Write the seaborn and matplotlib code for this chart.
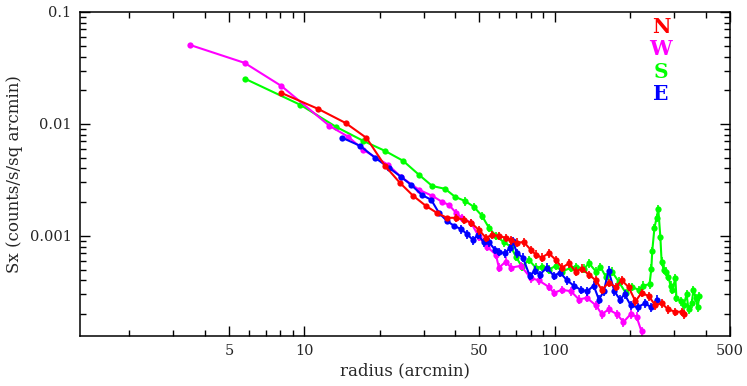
import numpy as np
import pandas as pd
import matplotlib
matplotlib.use("Agg")
import matplotlib.pyplot as plt
import matplotlib.ticker as mticker
import seaborn as sns

# surface brightness profiles
north_r = [8.10, 11.37, 14.6, 17.7, 21.0, 24.1, 27.2, 30.6, 33.9, 37.1, 40.4, 43.4, 46.3, 49.8, 53.1,
           56.1, 59.8, 63.8, 66.8, 70.6, 75.2, 80.2, 84.0, 88.7, 94.6, 101, 107, 114, 121, 128,
           137, 146, 154, 164, 175, 185, 197, 210, 222, 237, 252, 267, 284, 303, 321, 327]
north_sx = [0.0189, 0.0136, 0.0102, 0.0075, 0.00422, 0.00297, 0.00228, 0.00185, 0.0016, 0.00145,
            0.00145, 0.00139, 0.00131, 0.00113, 0.00096, 0.00102, 0.00100, 0.00096, 0.00092, 0.00087,
            0.00088, 0.00075, 0.00068, 0.00064, 0.00070, 0.00061, 0.00052, 0.00057, 0.00048, 0.00051,
            0.00045, 0.00040, 0.00033, 0.00038, 0.00035, 0.00040, 0.00035, 0.00026, 0.00031, 0.00029,
            0.00024, 0.00025, 0.00022, 0.00021, 0.00021, 0.00020]

west_r = [3.48, 5.77, 8.10, 12.6, 15.0, 17.2, 21.6, 24.3, 28.7, 32.4, 35.5, 37.8, 40.4, 42.6, 46.3,
          49.8, 53.6, 58.2, 59.8, 63.8, 66.8, 73.2, 80.2, 86.3, 94.6, 99.1, 107, 116, 125, 134,
          146, 154, 164, 177, 188, 201, 212, 222]
west_sx = [0.0509, 0.0351, 0.0218, 0.0096, 0.00766, 0.00586, 0.00431, 0.00337, 0.00258, 0.00228,
           0.00201, 0.00189, 0.0016, 0.00145, 0.00131, 0.00098, 0.00080, 0.00068, 0.00052, 0.00059,
           0.00052, 0.00054, 0.00042, 0.00040, 0.00035, 0.00031, 0.00033, 0.00032, 0.00027, 0.00028,
           0.00024, 0.00020, 0.00022, 0.00020, 0.00017, 0.00020, 0.00019, 0.00014]

south_r = [5.82, 9.64, 13.4, 17.2, 21.0, 24.8, 28.7, 32.4, 36.5, 40.0, 43.8, 47.5, 51.2, 54.6, 58.2,
           62.6, 66.8, 70.0, 73.9, 78.8, 84.0, 88.7, 94.6, 101, 107, 116, 122, 131, 137, 146,
           152, 160, 169, 180, 192, 203, 216, 226, 239, 243, 245, 250, 255, 259, 264, 267,
           272, 279, 284, 290, 295, 303, 306, 318, 327, 336, 342, 352, 358, 365, 372, 378]
south_sx = [0.0252, 0.0148, 0.0094, 0.00705, 0.00574, 0.00468, 0.00351, 0.00279, 0.00263, 0.00223,
            0.00205, 0.00182, 0.00151, 0.00118, 0.00100, 0.00088, 0.00080, 0.00065, 0.00053, 0.00061,
            0.00052, 0.00053, 0.00050, 0.00054, 0.00048, 0.00052, 0.00053, 0.00051, 0.00057, 0.00048,
            0.00053, 0.00043, 0.00048, 0.00039, 0.00031, 0.00035, 0.00033, 0.00036, 0.00037, 0.00051,
            0.00073, 0.00118, 0.00145, 0.00174, 0.00098, 0.00059, 0.00050, 0.00048, 0.00043, 0.00036,
            0.00033, 0.00042, 0.00028, 0.00026, 0.00024, 0.00030, 0.00022, 0.00025, 0.00033, 0.00028,
            0.00023, 0.00029]

east_r = [14.2, 16.7, 19.2, 21.8, 24.3, 26.7, 29.5, 32.1, 34.5, 37.1, 39.6, 42.2, 44.6, 47.1, 49.3,
          52.1, 54.6, 57.7, 59.8, 63.2, 66.2, 68.1, 70.6, 74.6, 79.4, 83.2, 87.1, 92.9, 99.1, 105,
          112, 119, 127, 135, 143, 150, 157, 164, 173, 182, 190, 201, 214, 229, 243, 255]
east_sx = [0.0075, 0.00637, 0.00497, 0.00405, 0.00337, 0.00285, 0.00232, 0.0021, 0.0016, 0.00136,
           0.00123, 0.00115, 0.00104, 0.00092, 0.00102, 0.00088, 0.00088, 0.00075, 0.00072, 0.00070,
           0.00078, 0.00090, 0.00070, 0.00064, 0.00044, 0.00049, 0.00045, 0.00052, 0.00044, 0.00047,
           0.00040, 0.00036, 0.00033, 0.00032, 0.00036, 0.00027, 0.00032, 0.00049, 0.00032, 0.00027,
           0.00030, 0.00024, 0.00023, 0.00025, 0.00023, 0.00027]

directions = ["N", "W", "S", "E"]
colors = {"N": "#ff0000", "W": "#ff00ff", "S": "#00ff00", "E": "#0000ff"}

frames = []
for d, r, s in [("N", north_r, north_sx), ("W", west_r, west_sx),
                ("S", south_r, south_sx), ("E", east_r, east_sx)]:
    frames.append(pd.DataFrame({"radius": r, "sx": s, "dir": d}))
df = pd.concat(frames, ignore_index=True)

sns.set_style("ticks")
plt.rcParams["font.family"] = ["DejaVu Serif"]

fig = plt.figure(figsize=(7.47, 3.86), dpi=100)
ax = fig.add_axes([0.107, 0.13, 0.87, 0.839])

# draw order like the reference: S under, then W, E, N
for d in ["S", "W", "E", "N"]:
    sub = df[df["dir"] == d]
    # small error bars on the noisy outer points
    err = np.where(sub["radius"] > 40, 0.09, 0.02) * sub["sx"]
    ax.errorbar(sub["radius"], sub["sx"], yerr=err, fmt="none",
                ecolor=colors[d], elinewidth=1.2, capsize=0)
    sns.lineplot(data=sub, x="radius", y="sx", color=colors[d], sort=False,
                 estimator=None, marker="o", markersize=4.5, markeredgewidth=0,
                 linewidth=1.5, ax=ax, legend=False)

ax.set_xscale("log")
ax.set_yscale("log")
ax.set_xlim(1.27, 500)
ax.set_ylim(1.28e-4, 0.1)

ax.xaxis.set_major_locator(mticker.FixedLocator([1, 5, 10, 50, 100, 500]))
ax.xaxis.set_major_formatter(mticker.FuncFormatter(lambda v, p: f"{v:g}"))
ax.xaxis.set_minor_locator(mticker.FixedLocator(
    [2, 3, 4, 6, 7, 8, 9, 20, 30, 40, 60, 70, 80, 90, 200, 300, 400]))
ax.xaxis.set_minor_formatter(mticker.NullFormatter())
ax.yaxis.set_major_locator(mticker.FixedLocator([0.001, 0.01, 0.1]))
ax.yaxis.set_major_formatter(mticker.FuncFormatter(lambda v, p: f"{v:g}"))
ax.yaxis.set_minor_locator(mticker.LogLocator(base=10, subs=np.arange(2, 10)))
ax.yaxis.set_minor_formatter(mticker.NullFormatter())

ax.tick_params(which="both", direction="in", top=True, right=True, width=1.0,
               color="black", labelsize=10.5, pad=6)
ax.tick_params(which="major", length=7)
ax.tick_params(which="minor", length=4)
for sp in ax.spines.values():
    sp.set_linewidth(1.1)
    sp.set_color("black")

ax.set_xlabel("radius (arcmin)", fontsize=12, labelpad=3)
ax.set_ylabel("Sx (counts/s/sq arcmin)", fontsize=12, labelpad=5)

for d, yy in zip(directions, [0.954, 0.886, 0.816, 0.746]):
    ax.text(0.894, yy, d, transform=ax.transAxes, color=colors[d], fontsize=14.5,
            fontweight="bold", ha="center", va="center")

fig.savefig("out.png", dpi=100)
